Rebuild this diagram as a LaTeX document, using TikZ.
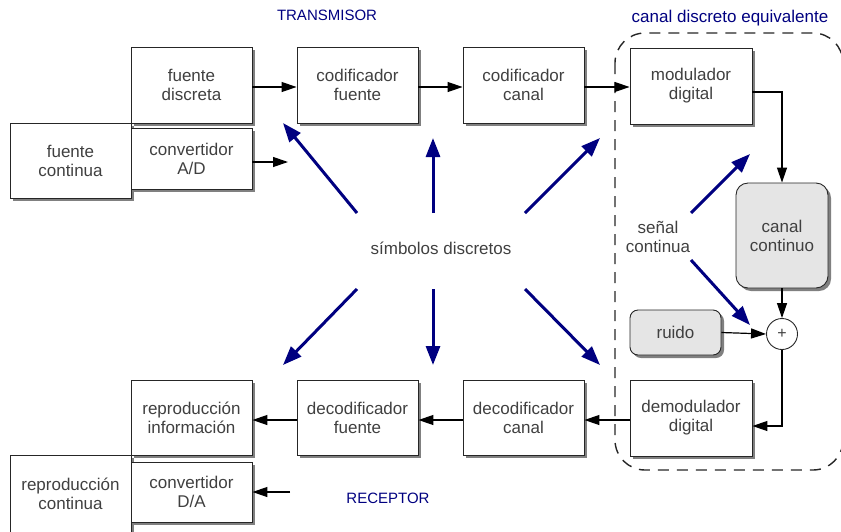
\documentclass[tikz,border=0pt]{standalone}
\usepackage{fontspec}
\setmainfont{Liberation Sans}
\usetikzlibrary{arrows.meta,shadows}
\definecolor{txt}{HTML}{404040}
\definecolor{navy}{HTML}{000080}
\begin{document}
\begin{tikzpicture}[x=1pt,y=-1pt,
  box/.style={draw=black!85, fill=white, line width=0.9pt, inner sep=0pt, align=center,
    text=txt, font=\fontsize{17}{19}\selectfont,
    drop shadow={shadow xshift=3pt,shadow yshift=-3pt,fill=black!50,opacity=1}},
  rbox/.style={box, rounded corners=12pt, fill=black!10},
  lbl/.style={text=txt, align=center, font=\fontsize{17}{19}\selectfont},
  blbl/.style={text=navy, font=\fontsize{15}{17}\selectfont, anchor=base},
  arr/.style={-{Triangle[length=15pt,width=10pt]}, line width=1.2pt, black},
  barr/.style={-{Triangle[length=19pt,width=14pt]}, line width=3pt, navy}]
\useasboundingbox (0,0) rectangle (841,531);
% dashed equivalent-channel region
\draw[black!85, line width=1.4pt, dash pattern=on 11pt off 8pt, rounded corners=30pt]
  (615,33) rectangle (843,470);
% transmitter
\node[box, minimum width=121pt, minimum height=75pt] (fc) at (70.5,160.5) {fuente\\continua};
\node[box, minimum width=121pt, minimum height=76pt] (fd) at (191.5,85) {fuente\\discreta};
\node[box, minimum width=121pt, minimum height=61pt] (ad) at (191.5,158.5) {convertidor\\A/D};
\node[box, minimum width=121pt, minimum height=76pt] (cf) at (357.5,85) {codificador\\fuente};
\node[box, minimum width=121pt, minimum height=76pt] (cc) at (523.5,85) {codificador\\canal};
\node[box, minimum width=122pt, minimum height=76pt] (md) at (691,86) {modulador\\digital};
% channel
\node[rbox, minimum width=92pt, minimum height=105pt] (ch) at (782,235.5) {canal\\continuo};
\node[rbox, rounded corners=8pt, minimum width=91pt, minimum height=45pt] (ru) at (675.5,332.5) {ruido};
\node[circle, draw=black!85, fill=white, line width=0.9pt, minimum size=31pt, inner sep=0pt,
  text=txt, font=\fontsize{16}{18}\selectfont] (pl) at (782,334) {+};
% receiver
\node[box, minimum width=121pt, minimum height=78pt] (rc) at (70.5,494) {reproducción\\continua};
\node[box, minimum width=121pt, minimum height=75pt] (ri) at (191.5,417.5) {reproducción\\información};
\node[box, minimum width=121pt, minimum height=60pt] (da) at (191.5,492) {convertidor\\D/A};
\node[box, minimum width=121pt, minimum height=75pt] (df) at (357.5,417.5) {decodificador\\fuente};
\node[box, minimum width=121pt, minimum height=75pt] (dc) at (523.5,417.5) {decodificador\\canal};
\node[box, minimum width=122pt, minimum height=76pt] (dm) at (691,418) {demodulador\\digital};
% labels
\node[blbl] (tx) at (327,20) {TRANSMISOR};
\node[blbl] (rx) at (388,503) {RECEPTOR};
\node[blbl, font=\fontsize{17}{19}\selectfont] (cde) at (730,22) {canal discreto equivalente};
\node[lbl] (sd) at (441,248) {símbolos discretos};
\node[lbl] (sc) at (658,237) {señal\\continua};
% helper coordinates
\coordinate (adout) at (288,162);
\coordinate (dain) at (290,492);
\coordinate (mdout) at (752,92);
\coordinate (mdc) at (782,92);
\coordinate (dmc) at (782,426);
\coordinate (rowA) at (0,87);
\coordinate (rowB) at (0,420);
% black connectors
\draw[arr] (rowA -| fd.east) -- (rowA -| cf.west);
\draw[arr] (adout -| ad.east) -- (adout);
\draw[arr] (rowA -| cf.east) -- (rowA -| cc.west);
\draw[arr] (rowA -| cc.east) -- (rowA -| md.west);
\draw[arr] (mdout) -- (mdc) -- (ch.north);
\draw[arr] (ch.south) -- (pl.north);
\draw[arr] (ru.east) -- (pl.west);
\draw[arr] (pl.south) -- (dmc) -- (dmc -| dm.east);
\draw[arr] (rowB -| dm.west) -- (rowB -| dc.east);
\draw[arr] (rowB -| dc.west) -- (rowB -| df.east);
\draw[arr] (rowB -| df.west) -- (rowB -| ri.east);
\draw[arr] (dain) -- (dain -| da.east);
% blue arrows
\coordinate (b1s) at (357,213); \coordinate (b1e) at (283,123);
\coordinate (b2s) at (433,213); \coordinate (b2e) at (433,138);
\coordinate (b3s) at (525,213); \coordinate (b3e) at (600,138);
\coordinate (b4s) at (357,289); \coordinate (b4e) at (283,365);
\coordinate (b5s) at (433,289); \coordinate (b5e) at (433,365);
\coordinate (b6s) at (525,289); \coordinate (b6e) at (600,365);
\coordinate (b7s) at (691,213); \coordinate (b7e) at (750,154);
\coordinate (b8s) at (691,260); \coordinate (b8e) at (750,325);
\foreach \i in {1,...,8} { \draw[barr] (b\i s) -- (b\i e); }
\end{tikzpicture}
\end{document}
